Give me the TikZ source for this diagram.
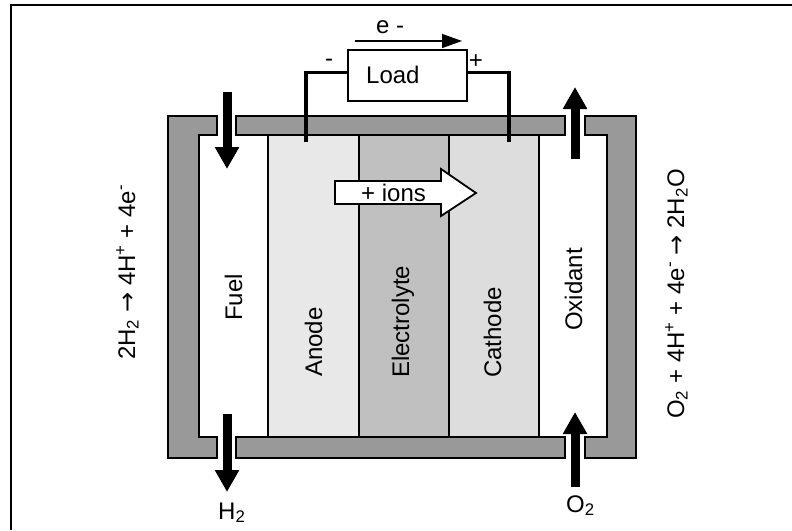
\documentclass[tikz,border=0pt]{standalone}
\usepackage{fontspec}
\setmainfont{Liberation Sans}
\newfontfamily\arrowfont{DejaVu Sans}
\usetikzlibrary{arrows.meta}
\definecolor{HousingGray}{HTML}{999999}
\definecolor{AnodeGray}{HTML}{E8E8E8}
\definecolor{ElectrolyteGray}{HTML}{C0C0C0}
\definecolor{CathodeGray}{HTML}{DDDDDD}

\begin{document}
\begin{tikzpicture}[
  x = 1pt, y = -1pt,
  every node/.style = {font = \fontsize{24}{28}\selectfont, inner sep = 0pt},
  housing/.style = {draw = black, line width = 1.8pt, fill = HousingGray},
  layer/.style = {draw = black, line width = 1.8pt},
  wire/.style = {line width = 3.2pt},
  flow/.style = {line width = 9pt, -{Triangle[length = 22pt, width = 23pt]}},
  upright/.style = {rotate = 90, anchor = base west},
  flat/.style = {anchor = base west}
]
  \useasboundingbox (0, 0) rectangle (792, 530);
  \draw[line width = 2.4pt] (11, 530) -- (11, 5) -- (792, 5);

  % housing
  \draw[housing] (217, 116) -- (168, 116) -- (168, 458) -- (217, 458) -- (217, 437) -- (199, 437) -- (199, 135) -- (217, 135) -- cycle;
  \draw[housing] (236, 116) rectangle (565, 135);
  \draw[housing] (236, 437) rectangle (565, 458);
  \draw[housing] (585, 116) -- (636, 116) -- (636, 458) -- (585, 458) -- (585, 437) -- (607, 437) -- (607, 135) -- (585, 135) -- cycle;

  % cell layers
  \draw[layer, fill = AnodeGray] (268, 135) rectangle (359, 437);
  \draw[layer, fill = ElectrolyteGray] (359, 135) rectangle (449, 437);
  \draw[layer, fill = CathodeGray] (449, 135) rectangle (539, 437);

  \node[upright] (fuel) at (242, 321) {Fuel};
  \node[upright] (anode) at (322, 377) {Anode};
  \node[upright] (electrolyte) at (409, 378) {Electrolyte};
  \node[upright] (cathode) at (501, 378) {Cathode};
  \node[upright] (oxidant) at (582, 331) {Oxidant};

  \node[upright] (anode eq) at (135, 360) {2H\textsubscript{2} {\arrowfont →} 4H\textsuperscript{+} + 4e\textsuperscript{-}};
  \node[upright] (cathode eq) at (684, 419) {O\textsubscript{2} + 4H\textsuperscript{+} + 4e\textsuperscript{-} {\arrowfont →} 2H\textsubscript{2}O};

  % load and wires
  \node[draw, line width = 1.8pt, fill = white, minimum width = 119pt, minimum height = 51pt] (load) at (407.5, 75.5) {};
  \node[flat] (load label) at (366, 83) {Load};
  \coordinate (anode tap) at (306, 142);
  \coordinate (cathode tap) at (509, 142);
  \draw[wire] (load.west |- 0, 72.5) -| (anode tap);
  \draw[wire] (load.east |- 0, 72.5) -| (cathode tap);
  \node (minus) at (329, 63) {-};
  \node (plus) at (476, 62) {+};

  \coordinate (e start) at (355, 41);
  \coordinate (e end) at (462, 41);
  \draw[line width = 1.4pt, -{Triangle[length = 20pt, width = 14pt]}] (e start) -- (e end);
  \node[flat] (electron) at (376, 33) {e -};

  % gas flows
  \coordinate (fuel top) at (227, 92);
  \coordinate (fuel tip) at (227, 169);
  \coordinate (h2 top) at (227, 414);
  \coordinate (h2 tip) at (227, 492);
  \coordinate (ox top) at (575, 159);
  \coordinate (ox tip) at (575, 87);
  \coordinate (o2 bottom) at (575, 487);
  \coordinate (o2 tip) at (575, 412);
  \draw[flow] (fuel top) -- (fuel tip);
  \draw[flow] (h2 top) -- (h2 tip);
  \draw[flow] (ox top) -- (ox tip);
  \draw[flow] (o2 bottom) -- (o2 tip);
  \node[flat] (h2) at (218, 519) {H\textsubscript{2}};
  \node[flat] (o2) at (566, 512) {O\textsubscript{2}};

  % ion arrow
  \draw[layer, fill = white] (335, 181) -- (441, 181) -- (441, 169) -- (476, 193) -- (441, 216) -- (441, 204) -- (335, 204) -- cycle;
  \node[flat] (ions) at (361, 201) {+ ions};
\end{tikzpicture}
\end{document}
